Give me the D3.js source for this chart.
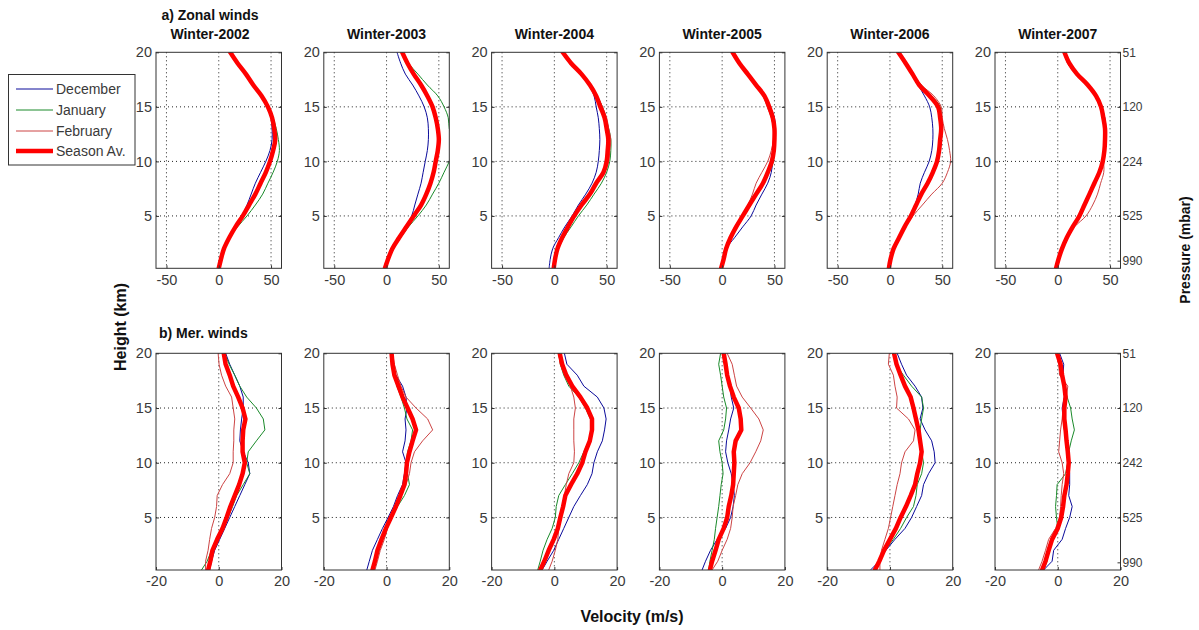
<!DOCTYPE html>
<html><head><meta charset="utf-8">
<script src="https://cdn.jsdelivr.net/npm/d3@7"></script>
<style>body{margin:0;background:#fff}svg{font-family:"Liberation Sans",Arial,sans-serif}</style>
</head><body><svg id="c" width="1199" height="630"></svg>
<script>
// ---------- data ----------
const heights = [0.2,1,2,3,4,5,6,7,8,9,10,11,12,13,14,15,16,17,18,19,20];
const years = ["2002","2003","2004","2005","2006","2007"];
const seriesNames = ["December","January","February","Season Av."];

// a) Zonal winds (m/s), one array per winter, values at `heights`
const zonalDec = [
 [0,2,5,10,16,22,27,31,35,40,45,49,51,51,50,46,40,33,26,18,11],
 [-2,1,5,12,18,24,27,30,33,35,37,39,40,40,39,36,31,25,18,13.5,10],
 [-5,-4,-1.6,4,10,17,23,30,36,40,42,43,43.5,43,42,40,38,33,25,16,8],
 [-1,1.3,4,11.8,19.7,27.7,32.5,38,43.6,47,48.4,50,50,51,50,46,41,33,25,17,10],
 [-1,0.5,3.5,8.7,14,20,24,27,29,33,37.5,40,41,41,40,38,33,27,21,15,8],
 [-1.6,0.6,4.1,8.6,14.3,20.7,25.5,30.3,35,39.8,43,44.6,45.5,46,45,42,37,29,18,9.5,6.4]
];
const zonalJan = [
 [0,2,5,10,18,27,35,42,47,52,56,58,57,55,52,48,42,34,27,19,12],
 [-1,1.3,6.5,13.5,21,30,38,44,50,55,60,64,64,60,59,55,49,39,30,21,15],
 [0,1.5,4,9,16,23,31,38,45,50,53,54,54,52,49,46,41,35,27,17,9],
 [-1,1.3,4,9,14,20,26,32,39,45,49,50,50,50,48,45,40,32,24,16,10],
 [-1,0.5,3.5,8.7,14,20,25,31,37,42,46,48,49,50,49,48,40,30,22,15,8],
 [-1.6,0.6,4.1,8.6,14.3,22,24.8,30,34,39,42.5,44.5,45,45,43.5,41,36.5,28.7,17.5,9.5,6.4]
];
const zonalFeb = [
 [0,2,5,10,15,22,28,34,39,44,48,51,53,53,51,47,41,33,26,18,11],
 [-1.5,1.5,5,11,18,25,33,39,43,46,48,50,50,49,47,44,39,33,26,20,15],
 [0.5,1.5,4,8,14,20,27,34,40,48,52,53,54,52,50,46,41,34,26,16,8],
 [-1,1.3,3.5,7,12,18.5,24.5,29,32.5,38,43.6,47,49,49,47,43,39,31,23,15.5,9],
 [-1,0.5,3.5,8.7,15,22,31,40,50,55,58,57,55,52,50,49,42,30,22,15,8],
 [-1.6,0.6,4.1,8.6,16,27,33.4,38,41,44,44,44.6,45,45,43.5,41,36.5,28.7,17.5,9.5,6.4]
];
const zonalSeason = [
 [0,2,5,10,16,23,29,35,40,45,49,52,54,53,51,47,41,33,26,18,11],
 [-1.5,1.3,5.5,12,19,26,33,38,42,45,47,49,50,49,47,44,39,33,26,20,15],
 [-0.6,0.6,3,7.4,13,19,26,34,40,47,50,51,51.6,50,48,44,40,34,26,16,8],
 [-1,1.3,3.8,8,13.4,19.7,26,32.5,39,43.6,47.5,49.4,50,50,48.4,45,40.4,32.5,24.5,16.5,10],
 [-1,0.5,3.5,8.7,14,20,25,30,36,41,45,47,48,49,48,46,38,28,21.6,15,8],
 [-1.6,0.6,4.1,8.6,14.3,20.7,25.5,30.3,35,39.8,43,44.6,45.2,45.2,43.6,41.4,36.6,28.7,18.5,11,6.4]
];

// b) Meridional winds (m/s)
const merDec = [
 [-2.9,-2.3,-1.3,0.3,1.9,3.5,5.1,6.7,8.3,9.9,9.4,7.8,6.7,6.9,7.3,7.8,7.8,6.7,5.1,3.5,2.2],
 [-6.3,-5.5,-4.5,-2.9,-1.3,0.5,2.2,3.5,5.1,5.7,6.2,5.1,5.9,6.2,5.9,6.5,6.2,5.1,3,1.9,1.4],
 [-3.9,-2.3,-0.2,1.4,3,4.6,6.2,8.3,10.5,12,12.6,13.7,15.3,16,16.5,15.8,13.7,9.4,7.3,4,3.2],
 [-6.4,-5.3,-3.7,-1.6,1.1,2.7,3.5,3.9,3.5,2.9,1.8,1.1,1.4,2.1,2.7,3.7,2.9,2.5,1.8,1.1,0.3],
 [-6.2,-3.4,-1.3,1.6,4.8,6.9,8.5,10.1,10.7,12.3,14.4,14.1,13.3,11.2,9.6,10.5,10.1,8,5.3,3.7,2.3],
 [-4.5,-1.8,-1.3,1.4,2.5,3.8,4.6,3.5,3.8,3.8,3.5,3.2,2.8,2.1,1.7,1.4,2.1,2.5,1.7,1.9,0.6]
];
const merJan = [
 [-5.5,-3.7,-2.3,-0.2,1.4,3,4.4,5.7,7.8,9.9,8.9,9.4,12,14.7,14.2,12,8.9,6.7,5.1,3.3,1.9],
 [-4.5,-3.4,-2.3,-1.3,0.1,1.6,3.5,5.7,7.3,6.7,6.2,6.7,7.8,8.3,6.5,5.7,4.6,3.3,2.5,1.9,1.6],
 [-5.3,-4.5,-3.6,-2.3,-0.7,0.3,0.6,1.4,3.5,5.7,7.8,9.4,11,12,11.5,9.9,7.8,4.6,3,1.9,1.4],
 [-4.3,-3.9,-3.2,-2.5,-2.1,-1.6,-1.1,-0.7,-0.3,0.3,0,-0.7,-1.1,0.5,1.1,1.4,0.5,0,-0.5,-1.1,-0.5],
 [-5.3,-3.7,-1.6,1.1,3.4,5.3,7.5,8.3,8.7,10.1,10.7,10.1,9.4,9.6,10.1,10.7,10.1,6.9,4.3,1.9,1.1],
 [-4.5,-3.4,-2.9,-1.8,0,-0.4,-0.7,-0.4,-0.2,2.5,3.2,3.5,4.3,5.3,4.6,4.1,3,1.9,1.4,0.9,0]
];
const merFeb = [
 [-4.2,-4.2,-3.4,-2.9,-2.3,-1.3,-0.7,-0.5,1.2,3.5,4.6,4.6,4.8,4.8,5.1,4.6,4.1,2.2,0.9,0.1,-0.2],
 [-3.7,-2.9,-2,-0.7,0.3,1.4,3,4.6,6.2,7.3,7.8,8.9,11.5,14.7,13.1,9.4,6.2,4.6,3.5,2.5,1.9],
 [-1.8,-0.7,0.3,1.1,1.4,1.9,2.5,3.2,3.8,4.6,6.2,6.4,6.2,6.2,6.2,6.7,6.2,5.1,3.2,1.9,1.4],
 [-3.2,-1.4,0,1.6,2.7,3.2,3.5,4.3,5,6.4,8.9,10.7,12.3,13.1,11.7,9.1,6.4,4.6,3.9,3.2,1.6],
 [-3.2,-3.2,-2.7,-1.6,-0.5,0.2,0.9,1.6,2.3,3.2,3.7,4.8,7.5,8,5.9,2.1,2.3,1.6,1.1,-0.5,-0.2],
 [-6.1,-5,-3.9,-2.9,-0.7,0.6,0.9,1.1,1.4,1.9,1.4,0.3,0.6,0.9,1.4,1.7,2.8,3.2,0.6,0.3,-0.2]
];
const merSeason = [
 [-3.4,-2.7,-2,-0.5,1.2,2.5,3.7,5.1,6.5,7.6,8.3,7.6,7.6,7.8,8.5,7.6,6.2,4.6,3.5,2.2,1.6],
 [-4.5,-3.7,-2.9,-1.6,-0.2,1.4,3,4.4,5.7,6.2,6.5,7.3,8.3,9.4,8.3,6.7,5.1,3.8,2.5,1.9,1.6],
 [-4.5,-3.2,-1.8,-0.2,1.1,1.9,2.8,3.5,5.3,7.3,8.9,9.9,11.3,12,12,10.5,8.3,5.7,3.8,2.5,1.7],
 [-3.9,-3.2,-2.1,-1.1,0.5,1.6,2.1,2.9,3.5,3.7,3.9,3.7,4.3,6.1,5.9,5.3,3.7,2.5,1.6,1.1,0.5],
 [-4.8,-3.4,-1.9,0,1.9,3.4,5.1,6.6,8,8.7,9.6,10.1,9.6,9.1,8.3,7.5,6.6,4.8,3.4,2.1,1.3],
 [-5,-3.9,-2.9,-1.8,0,1.1,1.7,2.1,2.8,3.2,3.5,3.2,2.8,2.5,2.1,2.1,2.5,2.1,1.4,0.9,-0.2]
];

const heightTicks = [5,10,15,20];
const zonalTicks = [-50,0,50];
const merTicks = [-20,0,20];
const pressureHeights = [20,15,10,5,0.9];
const pressureTop = ["51","120","224","525","990"];
const pressureBottom = ["51","120","242","525","990"];

// ---------- styles / layout ----------
const colors = ["#0a0a9a","#1a8a2a","#cc4444","#ff0000"];
const widths = [1,1,1,4.5];
const svg = d3.select("#c");
const panelLeft0 = 156, panelStep = 167.8, panelW = 125.5;
const rows = [
  {y0:52.3, y1:268.3, dom:[-60,60], ticks:zonalTicks, grid:zonalTicks,
   data:[zonalDec,zonalJan,zonalFeb,zonalSeason], curve:d3.curveCatmullRom, press:pressureTop},
  {y0:353.3, y1:570, dom:[-20,20], ticks:merTicks, grid:[0],
   data:[merDec,merJan,merFeb,merSeason], curve:d3.curveLinear, press:pressureBottom}
];
const tickFont = "14.5px";
const textCol = "#3a3a3a";

rows.forEach((row, ri) => {
  years.forEach((yr, pi) => {
    const x0 = panelLeft0 + pi*panelStep, x1 = x0 + panelW;
    const x = d3.scaleLinear().domain(row.dom).range([x0, x1]);
    const y = d3.scaleLinear().domain([0.2,20]).range([row.y1, row.y0]);
    const g = svg.append("g");
    const cid = `clip${ri}_${pi}`;
    svg.append("clipPath").attr("id", cid).append("rect")
      .attr("x", x0).attr("y", row.y0).attr("width", panelW).attr("height", row.y1-row.y0);
    g.append("rect").attr("x",x0).attr("y",row.y0).attr("width",panelW).attr("height",row.y1-row.y0).attr("fill","#fff");
    // grid
    g.selectAll(".gx").data(row.grid).join("line")
      .attr("x1",d=>x(d)).attr("x2",d=>x(d)).attr("y1",row.y0).attr("y2",row.y1)
      .attr("stroke","#222").attr("stroke-width",1).attr("stroke-dasharray","1,3");
    g.selectAll(".gy").data([5,10,15]).join("line")
      .attr("y1",d=>y(d)).attr("y2",d=>y(d)).attr("x1",x0).attr("x2",x1)
      .attr("stroke","#222").attr("stroke-width",1).attr("stroke-dasharray","1,3");
    // lines
    const lg = g.append("g").attr("clip-path",`url(#${cid})`);
    row.data.forEach((set, si) => {
      const vals = set[pi];
      const line = d3.line().x(d=>x(d)).y((d,i)=>y(heights[i])).curve(row.curve);
      lg.append("path").attr("d", line(vals)).attr("fill","none")
        .attr("stroke", colors[si]).attr("stroke-width", widths[si])
        .attr("stroke-linejoin","round").attr("stroke-linecap","round");
    });
    // frame
    g.append("rect").attr("x",x0).attr("y",row.y0).attr("width",panelW).attr("height",row.y1-row.y0)
      .attr("fill","none").attr("stroke","#333").attr("stroke-width",1);
    // axes
    const ay = g.append("g").attr("transform",`translate(${x0},0)`)
      .call(d3.axisLeft(y).tickValues(heightTicks).tickSizeInner(-3).tickSizeOuter(0).tickPadding(4));
    const ax = g.append("g").attr("transform",`translate(0,${row.y1})`)
      .call(d3.axisBottom(x).tickValues(row.ticks).tickSizeInner(-3).tickSizeOuter(0).tickPadding(6).tickFormat(d3.format("d")));
    const ar = g.append("g").attr("transform",`translate(${x1},0)`)
      .call(d3.axisRight(y).tickValues(pi===5 ? pressureHeights : heightTicks).tickSizeInner(-3).tickSizeOuter(0).tickPadding(2)
        .tickFormat((d,i)=> pi===5 ? row.press[i] : ""));
    [ay,ax,ar].forEach(a=>{
      a.select(".domain").remove();
      a.selectAll("line").attr("stroke","#333");
      a.selectAll("text").attr("fill",textCol).style("font-family","'Liberation Sans',Arial,sans-serif").style("font-size",tickFont);
    });
    ar.selectAll("text").style("font-size","12px");
    ax.selectAll("text").text(d=> d<0 ? "-"+Math.abs(d) : d);
    // titles
    if (ri===0) {
      svg.append("text").attr("x", pi===0 ? 210 : (x0+x1)/2).attr("y", 39).attr("text-anchor","middle")
        .attr("font-weight","bold").attr("font-size","14px").attr("fill","#111").text("Winter-"+yr);
    }
  });
});

svg.append("text").attr("x",210).attr("y",20).attr("text-anchor","middle")
  .attr("font-weight","bold").attr("font-size","14px").attr("fill","#111").text("a) Zonal winds");
svg.append("text").attr("x",159).attr("y",338)
  .attr("font-weight","bold").attr("font-size","14px").attr("fill","#111").text("b) Mer. winds");

// axis titles
svg.append("text").attr("transform","translate(126,327) rotate(-90)").attr("text-anchor","middle")
  .attr("font-weight","bold").attr("font-size","16px").attr("fill","#111").text("Height (km)");
svg.append("text").attr("transform","translate(1190,250) rotate(-90)").attr("text-anchor","middle")
  .attr("font-weight","bold").attr("font-size","14px").attr("fill","#111").text("Pressure (mbar)");
svg.append("text").attr("x",632).attr("y",622).attr("text-anchor","middle")
  .attr("font-weight","bold").attr("font-size","16px").attr("fill","#111").text("Velocity (m/s)");

// legend
const leg = svg.append("g");
leg.append("rect").attr("x",8.5).attr("y",74.5).attr("width",126.5).attr("height",90.5)
  .attr("fill","#fff").attr("stroke","#333").attr("stroke-width",1);
const legY = [89,110,131,151];
seriesNames.forEach((n,i)=>{
  leg.append("line").attr("x1",16).attr("x2",53).attr("y1",legY[i]).attr("y2",legY[i])
    .attr("stroke",colors[i]).attr("stroke-width",widths[i]);
  leg.append("text").attr("x",56).attr("y",legY[i]+5).attr("font-size","14px").attr("fill",textCol).text(n);
});
</script></body></html>
